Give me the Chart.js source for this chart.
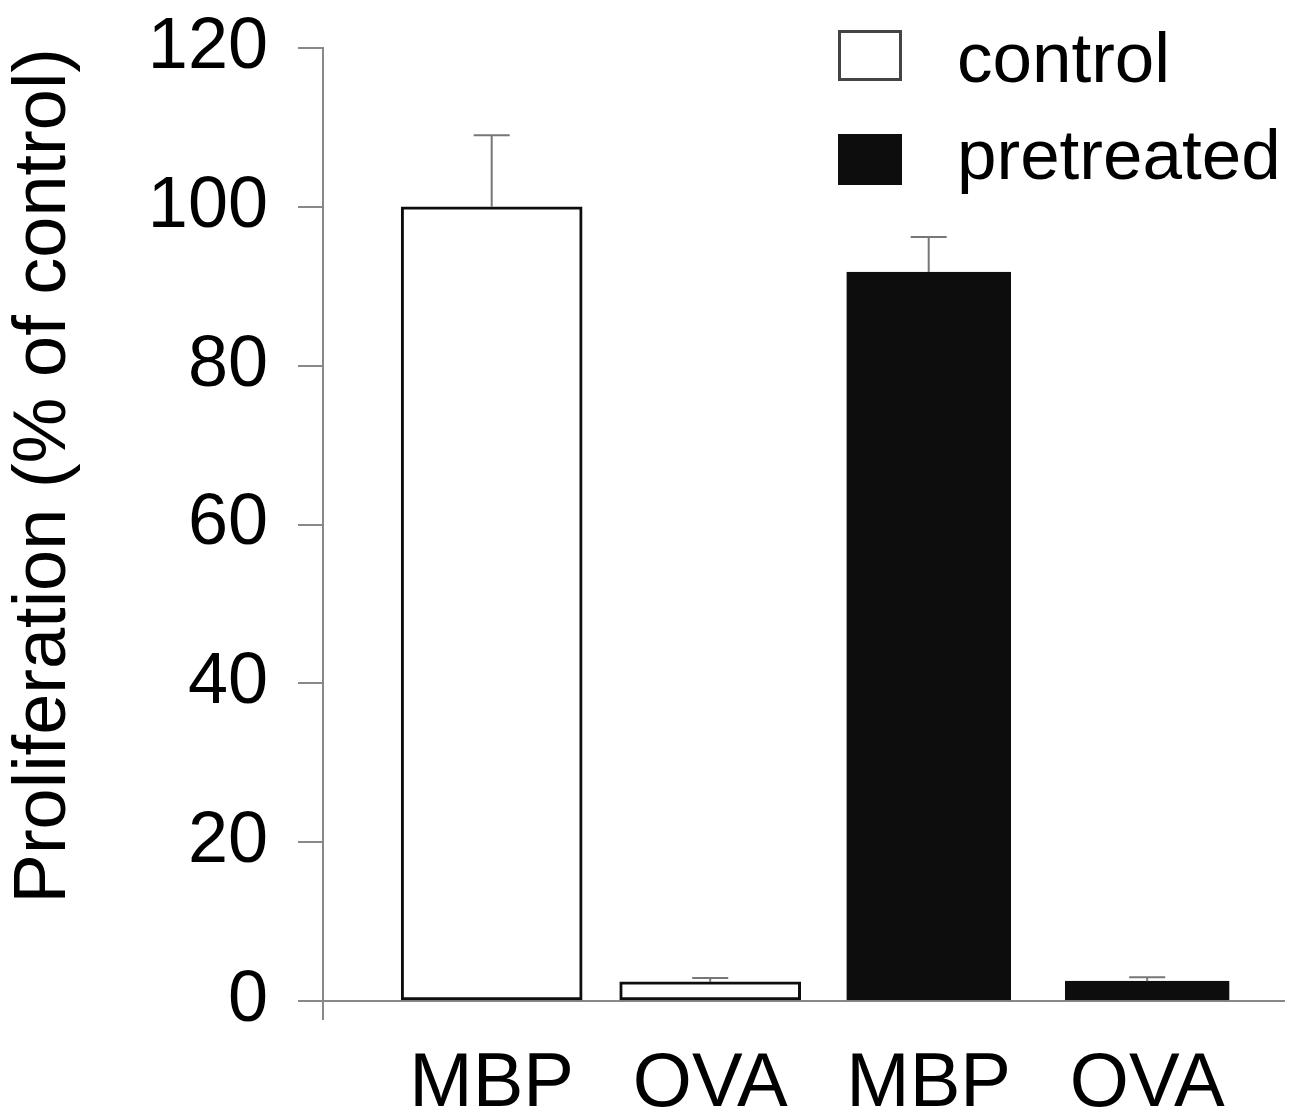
<!DOCTYPE html>
<html lang="en">

<head>
    <meta charset="UTF-8">
    <meta name="viewport" content="width=device-width, initial-scale=1.0">
    <script src="https://cdn.jsdelivr.net/npm/chart.js"></script>
    <title>Proliferation</title>
    <style>
        body { margin: 0; background: #fff; }
        .wrap { position: relative; width: 1291px; height: 1113px; }
        .legenda { position: absolute; left: 838px; top: 0; font-family: "Liberation Sans", Arial, sans-serif; }
        .item { position: absolute; left: 0; white-space: nowrap; }
        .caixa { position: absolute; left: 0; width: 64px; height: 51px; box-sizing: border-box; }
        .texto { position: absolute; left: 119px; font-size: 71px; line-height: 1; color: #000; }
    </style>
</head>

<body>
    <div class="wrap">
        <canvas id="grafico"></canvas>
        <div class="legenda" id="legenda"></div>
    </div>
</body>

</html>
<script>
    // categorias do eixo x
    const categorias = ['MBP', 'OVA', 'MBP', 'OVA'];
    const posicoes = [1, 2, 3, 4];

    // series
    const nomesSeries = ['control', 'pretreated'];
    const valoresControl = [100, 2.4, null, null];
    const valoresPretreated = [null, null, 91.8, 2.5];
    // erro (barra superior)
    const erroControl = [9.0, 0.5, null, null];
    const erroPretreated = [null, null, 4.4, 0.5];

    // eixo y
    const yMin = 0;
    const yMax = 120;
    const yPasso = 20;
    const tituloY = 'Proliferation (% of control)';

    Chart.defaults.font.family = '"Liberation Sans", Arial, sans-serif';
    Chart.defaults.color = '#000';

    function montarPontos(valores) {
        let pontos = [];
        for (let i = 0; i < valores.length; i++) {
            if (valores[i] !== null) pontos.push({ x: posicoes[i], y: valores[i] });
        }
        return pontos;
    }

    const dados = {
        datasets: [{
            label: nomesSeries[0],
            data: montarPontos(valoresControl),
            erros: erroControl.filter(e => e !== null),
            backgroundColor: '#ffffff',
            borderColor: '#0d0d0d',
            borderWidth: 3,
            borderSkipped: false,
            barThickness: 181,
            grouped: false
        },
        {
            label: nomesSeries[1],
            data: montarPontos(valoresPretreated),
            erros: erroPretreated.filter(e => e !== null),
            backgroundColor: '#0d0d0d',
            borderColor: '#0d0d0d',
            borderWidth: 2,
            borderSkipped: false,
            barThickness: 164,
            grouped: false
        }]
    };

    // desenha as barras de erro a partir das escalas
    const barrasErro = {
        id: 'barrasErro',
        afterDatasetsDraw(chart) {
            const ctx = chart.ctx;
            const y = chart.scales.y;
            ctx.save();
            ctx.strokeStyle = '#777';
            ctx.lineWidth = 2;
            chart.data.datasets.forEach((ds, d) => {
                const meta = chart.getDatasetMeta(d);
                meta.data.forEach((barra, i) => {
                    const topo = y.getPixelForValue(ds.data[i].y + ds.erros[i]);
                    ctx.beginPath();
                    ctx.moveTo(barra.x, barra.y);
                    ctx.lineTo(barra.x, topo);
                    ctx.moveTo(barra.x - 18, topo);
                    ctx.lineTo(barra.x + 18, topo);
                    ctx.stroke();
                });
            });
            ctx.restore();
        }
    };

    const config = {
        type: 'bar',
        data: dados,
        options: {
            responsive: true,
            maintainAspectRatio: false,
            animation: false,
            events: [],
            layout: { padding: { top: 48, right: 7, left: 0, bottom: 0 } },
            plugins: {
                legend: { display: false },
                tooltip: { enabled: false }
            },
            scales: {
                x: {
                    type: 'linear',
                    min: 0.228,
                    max: 4.626,
                    offset: false,
                    afterBuildTicks: (s) => {
                        s.ticks = [{ value: s.min }].concat(posicoes.map(p => ({ value: p })));
                    },
                    afterFit: (s) => { s.height = 112; },
                    ticks: {
                        autoSkip: false,
                        maxRotation: 0,
                        padding: 19,
                        font: { size: 76 },
                        callback: (v, i) => i === 0 ? '' : categorias[i - 1]
                    },
                    grid: {
                        offset: false,
                        drawOnChartArea: false,
                        tickLength: 19,
                        lineWidth: 2,
                        color: (c) => c.index === 0 ? '#888' : 'rgba(0,0,0,0)'
                    },
                    border: { display: true, color: '#888', width: 2 }
                },
                y: {
                    min: yMin,
                    max: yMax,
                    afterFit: (s) => {
                        s.width = 323;
                        s.paddingTop = 0;
                        s.paddingBottom = 0;
                    },
                    ticks: {
                        stepSize: yPasso,
                        padding: 30,
                        font: { size: 72 }
                    },
                    grid: {
                        drawOnChartArea: false,
                        tickLength: 25,
                        lineWidth: 2,
                        color: '#888'
                    },
                    border: { display: true, color: '#888', width: 2 },
                    title: {
                        display: true,
                        text: tituloY,
                        align: 'end',
                        font: { size: 74 },
                        padding: 0
                    }
                }
            }
        },
        plugins: [barrasErro]
    };

    let myChart = new Chart(document.getElementById('grafico'), config);

    // legenda em html
    const legenda = document.getElementById('legenda');
    const topos = [30, 134];
    const toposTexto = [22, 119];
    dados.datasets.forEach((ds, i) => {
        let item = document.createElement('div');
        item.className = 'item';
        let caixa = document.createElement('span');
        caixa.className = 'caixa';
        caixa.style.top = topos[i] + 'px';
        caixa.style.background = ds.backgroundColor;
        caixa.style.border = '3px solid ' + (i === 0 ? '#444' : ds.borderColor);
        let texto = document.createElement('span');
        texto.className = 'texto';
        texto.style.top = toposTexto[i] + 'px';
        texto.textContent = ds.label;
        item.appendChild(caixa);
        item.appendChild(texto);
        legenda.appendChild(item);
    });
</script>
